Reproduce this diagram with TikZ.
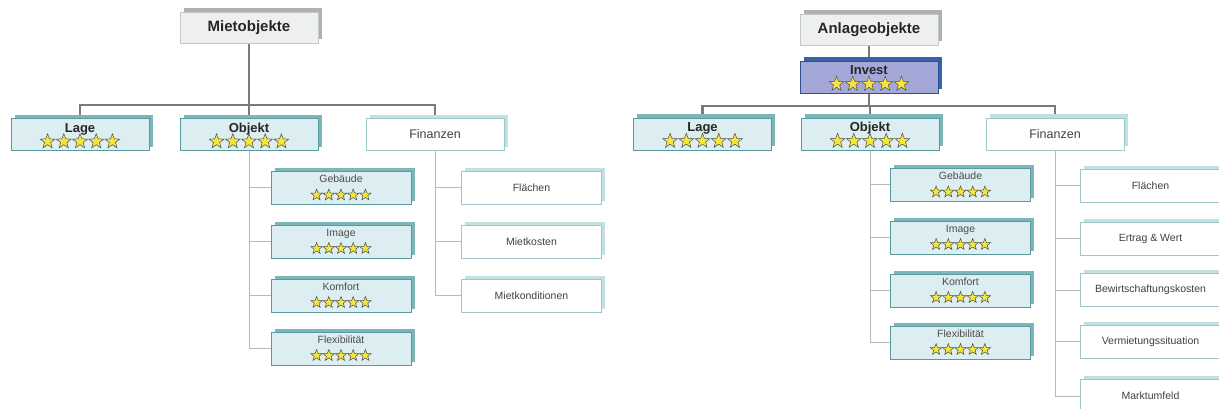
\documentclass[tikz,border=0pt]{standalone}
\usepackage{fontspec}
\setmainfont{Liberation Sans}
\usepackage{tikz}
\usetikzlibrary{shapes.geometric,shadows}
\pgfdeclarelayer{bg}
\pgfsetlayers{bg,main}
\definecolor{tealline}{HTML}{5A9A9E}
\definecolor{tealfill}{HTML}{DCEEF2}
\definecolor{tealside}{HTML}{7DB6B9}
\definecolor{paleline}{HTML}{9CC8CA}
\definecolor{paleside}{HTML}{C2E0E1}
\definecolor{grayfill}{HTML}{EEF0F0}
\definecolor{grayline}{HTML}{C4C8C8}
\definecolor{grayside}{HTML}{ADB1B1}
\definecolor{invfill}{HTML}{A4A8D8}
\definecolor{invline}{HTML}{2F4F8F}
\definecolor{invside}{HTML}{3A62A8}
\definecolor{staryel}{HTML}{F4E63C}

\begin{document}
\begin{tikzpicture}[x=1pt,y=-1pt,
  box/.style={rectangle, inner sep=0pt, line width=0.8pt, minimum width=138pt, minimum height=32pt},
  rootbox/.style={box, fill=grayfill, draw=grayline, minimum height=31pt, font=\fontsize{15}{15}\selectfont\bfseries, text=black!85,
    copy shadow={shadow xshift=3.5pt, shadow yshift=3.5pt, fill=grayside, draw=none}},
  ratedbox/.style={box, fill=tealfill, draw=tealline, font=\fontsize{13}{13}\selectfont\bfseries, text=black!85,
    text height=9pt, text depth=13pt,
    copy shadow={shadow xshift=3.5pt, shadow yshift=3.5pt, fill=tealside, draw=none}},
  investbox/.style={ratedbox, fill=invfill, draw=invline,
    copy shadow={shadow xshift=3.5pt, shadow yshift=3.5pt, fill=invside, draw=none}},
  plainbox/.style={box, fill=white, draw=paleline, font=\fontsize{12.5}{12.5}\selectfont, text=black!75,
    copy shadow={shadow xshift=3.5pt, shadow yshift=3.5pt, fill=paleside, draw=none}},
  childbox/.style={ratedbox, minimum width=140pt, minimum height=33pt, font=\fontsize{10.5}{10.5}\selectfont, text=black!70,
    text height=7.5pt, text depth=18pt},
  itembox/.style={plainbox, minimum width=140pt, minimum height=33pt, font=\fontsize{10.5}{10.5}\selectfont},
  bigstar/.style={star, star points=5, star point ratio=2.4, inner sep=0pt, minimum size=15.5pt, fill=staryel, draw=black!70, line width=0.5pt},
  smallstar/.style={bigstar, minimum size=12pt},
  trunk/.style={draw=black!52, line width=2.5pt},
  twig/.style={draw=black!28, line width=1pt}]

\useasboundingbox (0,0) rectangle (1219,409);

% Mietobjekte
\node[rootbox] (mroot) at (249,27.5) {Mietobjekte};
\node[ratedbox] (mlage) at (80,134.5) {Lage};
\node[ratedbox] (mobj) at (249,134.5) {Objekt};
\node[plainbox] (mfin) at (435,134.5) {Finanzen};
\coordinate (mbar) at (249,105);

\node[childbox] (mgeb) at (341,188) {Gebäude};
\node[childbox] (mimg) at (341,241.5) {Image};
\node[childbox] (mkom) at (341,295.5) {Komfort};
\node[childbox] (mflex) at (341,348.5) {Flexibilität};

\node[itembox] (mflae) at (531.5,188) {Flächen};
\node[itembox] (mkost) at (531.5,241.5) {Mietkosten};
\node[itembox] (mkond) at (531.5,295.5) {Mietkonditionen};

% Anlageobjekte
\node[rootbox] (aroot) at (869,29.5) {Anlageobjekte};
\node[investbox] (ainv) at (869,77) {Invest};
\node[ratedbox] (alage) at (702.5,134) {Lage};
\node[ratedbox] (aobj) at (870,134) {Objekt};
\node[plainbox] (afin) at (1055,134) {Finanzen};
\coordinate (abar) at (869,106);

\node[childbox] (ageb) at (960.5,185) {Gebäude};
\node[childbox] (aimg) at (960.5,237.5) {Image};
\node[childbox] (akom) at (960.5,290.5) {Komfort};
\node[childbox] (aflex) at (960.5,342.5) {Flexibilität};

\node[itembox] (aflae) at (1150.5,186) {Flächen};
\node[itembox] (aertr) at (1150.5,238.5) {Ertrag \& Wert};
\node[itembox] (abew) at (1150.5,290) {Bewirtschaftungskosten};
\node[itembox] (averm) at (1150.5,341.5) {Vermietungssituation};
\node[itembox] (amarkt) at (1150.5,396) {Marktumfeld};

% stars
\foreach \n in {mlage,mobj,ainv,alage,aobj}
  \foreach \i in {-2,...,2}
    \node[bigstar] at ([shift={(\i*16.2,7)}]\n.center) {};
\foreach \n in {mgeb,mimg,mkom,mflex,ageb,aimg,akom,aflex}
  \foreach \i in {-2,...,2}
    \node[smallstar] at ([shift={(\i*12.2,7)}]\n.center) {};

% connectors
\begin{pgfonlayer}{bg}
\draw[trunk] (mroot.south) -- (mobj.north);
\draw[trunk] (mlage.north) |- (mbar) -| (mfin.north);
\draw[trunk] (aroot.south) -- (ainv.north);
\draw[trunk] (ainv.south) -- (abar) -- (aobj.north |- abar) -- (aobj.north);
\draw[trunk] (alage.north) |- (abar) -| (afin.north);
\foreach \c in {mgeb,mimg,mkom,mflex}
  \draw[twig] (mobj.south) |- (\c.west);
\foreach \c in {mflae,mkost,mkond}
  \draw[twig] (mfin.south) |- (\c.west);
\foreach \c in {ageb,aimg,akom,aflex}
  \draw[twig] (aobj.south) |- (\c.west);
\foreach \c in {aflae,aertr,abew,averm,amarkt}
  \draw[twig] (afin.south) |- (\c.west);
\end{pgfonlayer}
\end{tikzpicture}
\end{document}
